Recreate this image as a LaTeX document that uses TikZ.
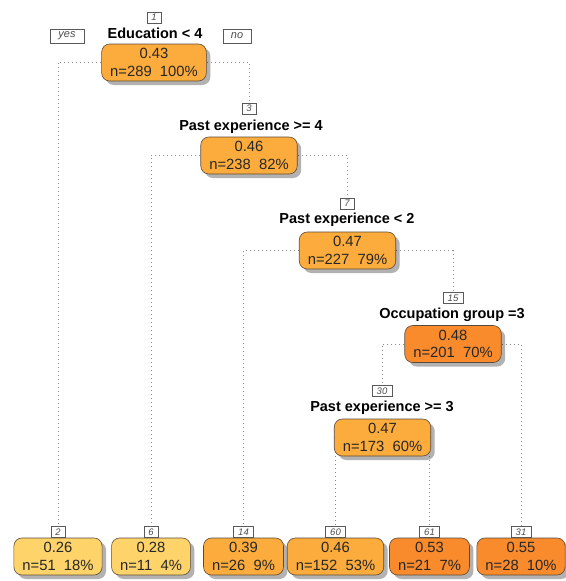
\documentclass[tikz,border=0pt]{standalone}
\usepackage{fontspec}
\setmainfont{Liberation Sans}
\usetikzlibrary{shadows,backgrounds}
\definecolor{cLight}{HTML}{FED46A}
\definecolor{cMid}{HTML}{FCAC3C}
\definecolor{cDark}{HTML}{F98B2D}
\definecolor{cEdge}{HTML}{5A4A3A}
\begin{document}
\begin{tikzpicture}[x=1pt,y=-1pt,
  tbox/.style={draw=cEdge, line width=0.6pt, rounded corners=8pt, align=center,
    inner xsep=8.5pt, inner ysep=1pt, minimum height=37pt,
    font=\fontsize{14.8}{17.5}\selectfont, text=black!85,
    drop shadow={shadow xshift=4pt, shadow yshift=-4pt, fill=black, opacity=0.3}},
  numbox/.style={draw=black!65, line width=0.5pt, fill=white, inner xsep=2pt, inner ysep=0.5pt,
    minimum width=14pt, minimum height=11pt, font=\fontsize{9.5}{10}\selectfont\itshape, text=black!70},
  cond/.style={font=\fontsize{14.5}{16}\selectfont\bfseries, inner sep=0pt},
  conn/.style={draw=black!45, line width=1pt, dash pattern=on 1pt off 3pt}]
\useasboundingbox (0,0) rectangle (565,581);

% internal nodes
\node[tbox, fill=cMid] (n1) at (154,62.5) {0.43\\n=289~~100\%};
\node[cond] (c1) at (155,33) {Education < 4};
\node[numbox] (k1) at (154,17.5) {1};
\node[numbox, minimum width=34pt, minimum height=14pt, font=\fontsize{11}{12}\selectfont\itshape] (yes) at (67,36) {yes};
\node[numbox, minimum width=28pt, minimum height=14pt, font=\fontsize{11}{12}\selectfont\itshape] (no) at (237,36) {no};

\node[tbox, fill=cMid] (n3) at (249,155.5) {0.46\\n=238~~82\%};
\node[cond] (c3) at (251,127) {Past experience >= 4};
\node[numbox] (k3) at (249,108.5) {3};

\node[tbox, fill=cMid] (n7) at (347.5,250.5) {0.47\\n=227~~79\%};
\node[cond] (c7) at (347,220) {Past experience < 2};
\node[numbox] (k7) at (347,203.5) {7};

\node[tbox, fill=cDark] (n15) at (453,344) {0.48\\n=201~~70\%};
\node[cond] (c15) at (452,315) {Occupation group =3};
\node[numbox, minimum width=20pt] (k15) at (453,298) {15};

\node[tbox, fill=cMid] (n30) at (382.5,437.5) {0.47\\n=173~~60\%};
\node[cond] (c30) at (382,408) {Past experience >= 3};
\node[numbox, minimum width=20pt] (k30) at (382,391) {30};

% leaves
\node[tbox, fill=cLight] (l2) at (58,556.5) {0.26\\n=51~~18\%};
\node[tbox, fill=cLight] (l6) at (151,556.5) {0.28\\n=11~~4\%};
\node[tbox, fill=cMid] (l14) at (243.5,556.5) {0.39\\n=26~~9\%};
\node[tbox, fill=cMid] (l60) at (335.5,556.5) {0.46\\n=152~~53\%};
\node[tbox, fill=cDark] (l61) at (429.5,556.5) {0.53\\n=21~~7\%};
\node[tbox, fill=cDark] (l31) at (521,556.5) {0.55\\n=28~~10\%};

\node[numbox, anchor=south] (k2) at (l2.north) {2};
\node[numbox, anchor=south] (k6) at (l6.north) {6};
\node[numbox, anchor=south, minimum width=20pt] (k14) at (l14.north) {14};
\node[numbox, anchor=south, minimum width=20pt] (k60) at (l60.north) {60};
\node[numbox, anchor=south, minimum width=20pt] (k61) at (l61.north) {61};
\node[numbox, anchor=south, minimum width=20pt] (k31) at (l31.north) {31};

\begin{pgfonlayer}{background}
\draw[conn] (n1.west) -| (k2.north);
\draw[conn] (n1.east) -| (k3.north);
\draw[conn] (n3.west) -| (k6.north);
\draw[conn] (n3.east) -| (k7.north);
\draw[conn] (n7.west) -| (k14.north);
\draw[conn] (n7.east) -| (k15.north);
\draw[conn] (n15.west) -| (k30.north);
\draw[conn] (n15.east) -| (k31.north);
\draw[conn] (n30.west) -| (k60.north);
\draw[conn] (n30.east) -| (k61.north);
\end{pgfonlayer}
\end{tikzpicture}
\end{document}
